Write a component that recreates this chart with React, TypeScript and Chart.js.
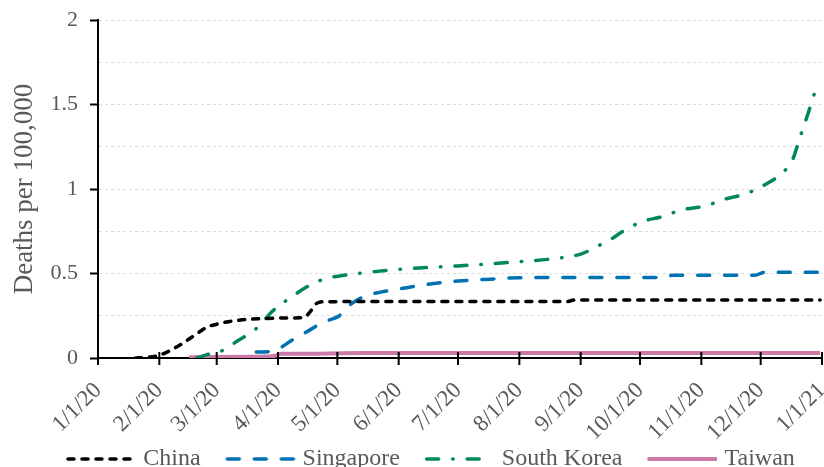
import { useEffect, useRef } from "react";
import { Chart, registerables } from "chart.js";

Chart.register(...registerables);

// ---------- data ----------
const xTickLabels = [
  "1/1/20", "2/1/20", "3/1/20", "4/1/20", "5/1/20", "6/1/20", "7/1/20",
  "8/1/20", "9/1/20", "10/1/20", "11/1/20", "12/1/20", "1/1/21",
];

const seriesNames = ["China", "Singapore", "South Korea", "Taiwan"];

const chinaDates = [
  "1/20/20", "1/26/20", "2/1/20", "2/5/20", "2/9/20", "2/13/20", "2/17/20",
  "2/21/20", "2/25/20", "3/1/20", "3/7/20", "3/14/20", "3/22/20", "4/1/20",
  "4/14/20", "4/17/20", "4/20/20", "4/24/20", "5/20/20", "6/20/20", "7/20/20",
  "8/25/20", "8/29/20", "10/1/20", "11/15/20", "12/31/20",
];
const chinaValues = [
  0.0, 0.004, 0.016, 0.035, 0.06, 0.088, 0.12,
  0.152, 0.182, 0.2, 0.215, 0.226, 0.232, 0.236,
  0.239, 0.27, 0.318, 0.333, 0.334, 0.334, 0.334,
  0.334, 0.343, 0.343, 0.343, 0.343,
];

const singaporeDates = [
  "3/21/20", "3/27/20", "4/2/20", "4/8/20", "4/17/20", "4/22/20", "4/27/20",
  "5/2/20", "5/6/20", "5/11/20", "5/16/20", "5/23/20", "6/2/20", "6/15/20",
  "7/1/20", "7/15/20", "8/1/20", "9/1/20", "10/12/20", "10/18/20", "11/28/20",
  "12/3/20", "12/31/20",
];
const singaporeValues = [
  0.035, 0.037, 0.06, 0.105, 0.165, 0.2, 0.225,
  0.25, 0.3, 0.343, 0.37, 0.39, 0.41, 0.435,
  0.455, 0.465, 0.475, 0.476, 0.476, 0.49, 0.49,
  0.507, 0.507,
];

const southKoreaDates = [
  "2/20/20", "2/25/20", "3/1/20", "3/5/20", "3/12/20", "3/17/20", "3/22/20",
  "3/29/20", "4/7/20", "4/17/20", "4/25/20", "5/2/20", "5/15/20", "6/1/20",
  "7/1/20", "8/1/20", "8/20/20", "9/1/20", "9/11/20", "9/16/20", "9/22/20",
  "10/2/20", "10/12/20", "10/22/20", "11/3/20", "11/13/20", "11/23/20",
  "12/2/20", "12/11/20", "12/17/20", "12/21/20", "12/25/20", "12/28/20",
];
const southKoreaValues = [
  0.0, 0.02, 0.033, 0.05, 0.105, 0.14, 0.185,
  0.275, 0.355, 0.43, 0.47, 0.485, 0.505, 0.525,
  0.545, 0.57, 0.59, 0.615, 0.67, 0.7, 0.747,
  0.807, 0.836, 0.876, 0.9, 0.94, 0.97,
  1.018, 1.087, 1.17, 1.31, 1.448, 1.56,
];

const taiwanDates = [
  "2/16/20", "3/20/20", "3/29/20", "4/3/20", "4/10/20", "5/15/20", "12/31/20",
];
const taiwanValues = [0.004, 0.008, 0.01, 0.025, 0.025, 0.029, 0.029];

// ---------- styles ----------
const FONT = "'Liberation Serif', 'Times New Roman', Times, serif";
const TEXT = "#595959";

const seriesStyles = [
  { color: "#000000", dash: [6, 8], width: 3.5 },
  { color: "#0072B2", dash: [12, 15], width: 3.5 },
  { color: "#00875A", dash: [12, 14, 0.5, 14], width: 3.5 },
  { color: "#CC79A7", dash: [] as number[], width: 4 },
];

const LEGEND_DX = 7;
const LEGEND_DY = 14;

function dayIndex(label: string): number {
  const [m, d, y] = label.split("/").map(Number);
  return Math.round((Date.UTC(2000 + y, m - 1, d) - Date.UTC(2020, 0, 1)) / 86400000);
}

function toPoints(dates: string[], values: number[]) {
  return dates.map((d, i) => ({ x: dayIndex(d), y: values[i] }));
}

// legend sample: 70px line drawn at the right end of a 100px-wide image
function makeSample(color: string, dash: number[], width: number): HTMLCanvasElement {
  const c = document.createElement("canvas");
  c.width = 100;
  c.height = 10;
  const g = c.getContext("2d")!;
  g.strokeStyle = color;
  g.lineWidth = width;
  g.lineCap = dash.length ? "round" : "butt";
  g.setLineDash(dash);
  g.beginPath();
  const start = dash.length ? 30 + width / 2 : 30;
  const end = dash.length ? 100 - width / 2 : 100;
  g.moveTo(start, 5);
  g.lineTo(end, 5);
  g.stroke();
  return c;
}

const xTickPlugin = {
  id: "xTickMarks",
  afterDatasetsDraw(chart: any) {
    const xs = chart.scales.x;
    const ctx = chart.ctx;
    const bottom = chart.chartArea.bottom;
    ctx.save();
    ctx.strokeStyle = "#000";
    ctx.lineWidth = 2;
    xs.ticks.forEach((t: any) => {
      const px = xs.getPixelForValue(t.value);
      ctx.beginPath();
      ctx.moveTo(px, bottom - 6);
      ctx.lineTo(px, bottom + 7);
      ctx.stroke();
    });
    ctx.restore();
  },
};

const legendShiftPlugin = {
  id: "legendShift",
  afterLayout(chart: any) {
    const lg = chart.legend;
    if (lg) {
      lg.left += LEGEND_DX;
      lg.right += LEGEND_DX;
      lg.top += LEGEND_DY;
      lg.bottom += LEGEND_DY;
    }
  },
};

export default function App() {
  const ref = useRef<HTMLCanvasElement | null>(null);

  useEffect(() => {
    document.body.style.margin = "0";
    if (!ref.current) return;
    const seriesData = [
      toPoints(chinaDates, chinaValues),
      toPoints(singaporeDates, singaporeValues),
      toPoints(southKoreaDates, southKoreaValues),
      toPoints(taiwanDates, taiwanValues),
    ];
    const samples = seriesStyles.map((s) => makeSample(s.color, s.dash, s.width));

    const chart = new Chart(ref.current, {
      type: "line",
      data: {
        datasets: seriesNames.map((name, i) => ({
          label: name,
          data: seriesData[i],
          borderColor: seriesStyles[i].color,
          backgroundColor: seriesStyles[i].color,
          borderWidth: seriesStyles[i].width,
          borderDash: seriesStyles[i].dash,
          borderCapStyle: seriesStyles[i].dash.length ? "round" : "butt",
          pointRadius: 0,
          pointHoverRadius: 0,
          fill: false,
          cubicInterpolationMode: "monotone",
        })),
      },
      plugins: [xTickPlugin, legendShiftPlugin],
      options: {
        responsive: false,
        animation: false,
        layout: { padding: { top: 20, right: 2, bottom: 0, left: 0 } },
        plugins: {
          tooltip: { enabled: false },
          legend: {
            position: "bottom",
            labels: {
              usePointStyle: true,
              pointStyleWidth: 90,
              padding: 0,
              color: TEXT,
              font: { family: FONT, size: 24 },
              generateLabels: (ch: any) =>
                ch.data.datasets.map((ds: any, i: number) => ({
                  text: ds.label,
                  pointStyle: samples[i],
                  datasetIndex: i,
                  hidden: false,
                  lineWidth: 0,
                  fillStyle: "rgba(0,0,0,0)",
                  strokeStyle: "rgba(0,0,0,0)",
                  fontColor: TEXT,
                })),
            },
          },
        },
        scales: {
          x: {
            type: "linear",
            min: 0,
            max: 366,
            afterBuildTicks: (s: any) => {
              s.ticks = xTickLabels.map((l) => ({ value: dayIndex(l) }));
            },
            afterFit: (s: any) => {
              s.height = 75;
              s.paddingLeft = 0;
              s.paddingRight = 0;
              s._computeLabelArea = () => undefined;
            },
            ticks: {
              autoSkip: false,
              minRotation: 45,
              maxRotation: 45,
              padding: 19,
              color: TEXT,
              font: { family: FONT, size: 23 },
              callback: (_v: any, i: number) => xTickLabels[i],
            },
            grid: { display: false, drawTicks: false },
            border: { display: true, color: "#000", width: 2 },
          },
          y: {
            min: 0,
            max: 2,
            afterFit: (s: any) => {
              s.width = 98;
              s.paddingTop = 0;
              s.paddingBottom = 0;
            },
            ticks: {
              stepSize: 0.25,
              padding: 12,
              color: TEXT,
              font: { family: FONT, size: 22 },
              callback: (v: any) => {
                const n = Number(v);
                return Math.abs(n * 2 - Math.round(n * 2)) < 1e-9 ? String(n) : "";
              },
            },
            grid: {
              color: (c: any) => (c.tick && c.tick.value === 0 ? "rgba(0,0,0,0)" : "#dcdcdc"),
              lineWidth: 1,
              drawTicks: true,
              tickLength: 8,
              tickWidth: 2,
              tickBorderDash: [],
              tickColor: (c: any) => {
                const n = c.tick ? c.tick.value : 0;
                return Math.abs(n * 2 - Math.round(n * 2)) < 1e-9 ? "#000" : "rgba(0,0,0,0)";
              },
            },
            border: { display: true, color: "#000", width: 2, dash: [3, 3] },
            title: {
              display: true,
              text: "Deaths per 100,000",
              color: TEXT,
              font: { family: FONT, size: 27 },
              padding: { top: 9, bottom: 0 },
            },
          },
        },
      } as any,
    } as any);

    return () => chart.destroy();
  }, []);

  return (
    <div style={{ width: 824, height: 467 }}>
      <canvas ref={ref} width={824} height={467} style={{ display: "block" }} />
    </div>
  );
}
